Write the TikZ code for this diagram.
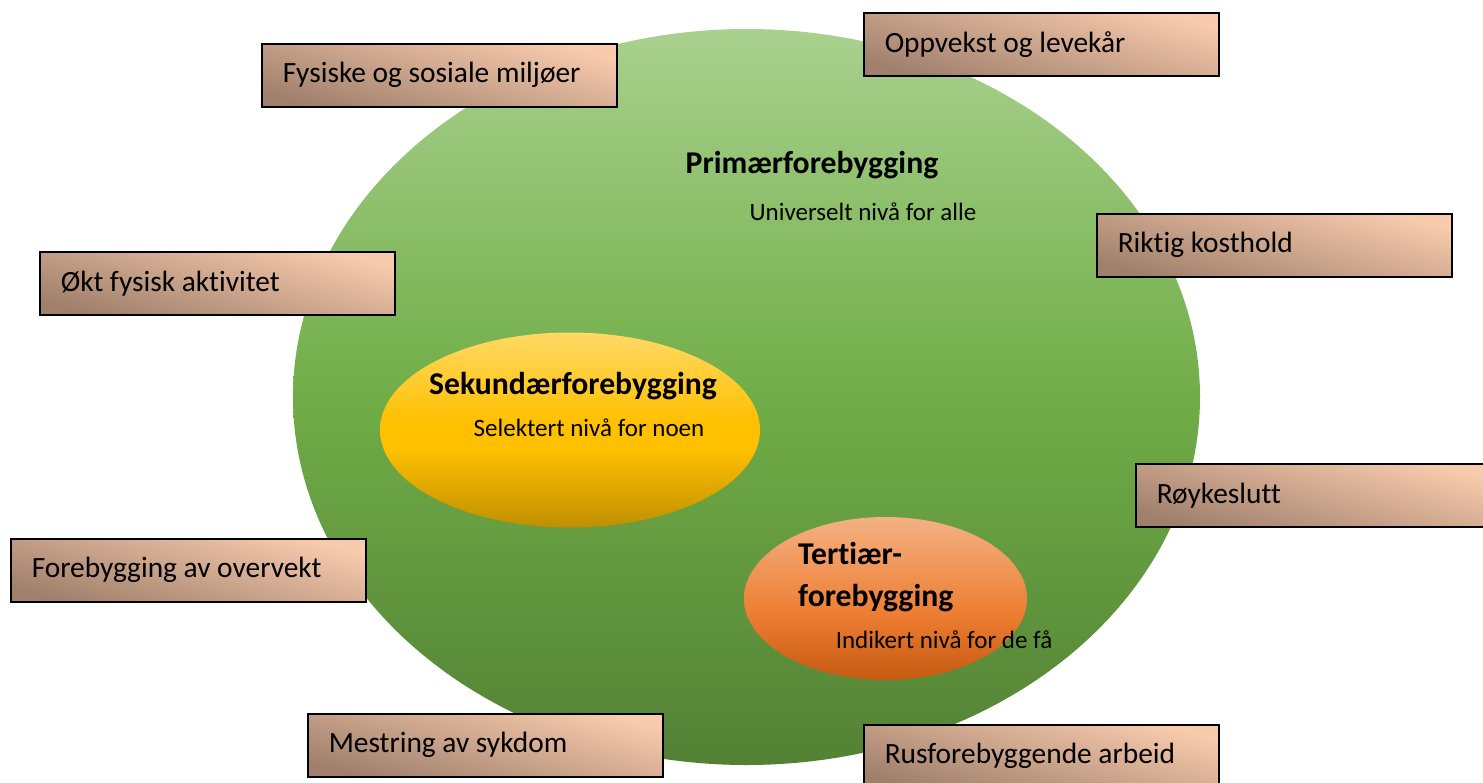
\documentclass[tikz,border=0pt]{standalone}
\usepackage{fontspec}
\setmainfont{Carlito}[Ligatures=CommonOff]
\usetikzlibrary{shapes.geometric}
\definecolor{gtop}{HTML}{A9D18E}
\definecolor{gmid}{HTML}{70AD47}
\definecolor{gbot}{HTML}{538135}
\definecolor{ytop}{HTML}{FFD966}
\definecolor{ymid}{HTML}{FFC000}
\definecolor{ybot}{HTML}{BF8F00}
\definecolor{otop}{HTML}{F4B183}
\definecolor{omid}{HTML}{ED7D31}
\definecolor{obot}{HTML}{C55A11}
\definecolor{blight}{HTML}{F8CBAD}
\definecolor{bdark}{HTML}{A0806C}
\pgfdeclareverticalshading{greenshade}{100bp}{color(0bp)=(gbot); color(25bp)=(gbot); color(50bp)=(gmid); color(75bp)=(gtop); color(100bp)=(gtop)}
\pgfdeclareverticalshading{yellowshade}{100bp}{color(0bp)=(ybot); color(25bp)=(ybot); color(45bp)=(ymid); color(52bp)=(ymid); color(75bp)=(ytop); color(100bp)=(ytop)}
\pgfdeclareverticalshading{orangeshade}{100bp}{color(0bp)=(obot); color(25bp)=(obot); color(45bp)=(omid); color(75bp)=(otop); color(100bp)=(otop)}
\newcommand\boxtxt[1]{\makebox[313pt][l]{#1}}
\tikzset{
  infobox/.style={draw=black, line width=1.5pt, anchor=north west,
    minimum width=355pt, minimum height=63pt,
    inner xsep=21pt, inner ysep=0pt,
    top color=blight, bottom color=bdark, shading angle=-15,
    font=\fontsize{29.4}{34}\selectfont},
  bigtitle/.style={font=\fontsize{31.7}{42}\selectfont\bfseries, inner sep=0pt},
  subtitle/.style={font=\fontsize{25}{28}\selectfont, inner sep=0pt},
}
\begin{document}
\begin{tikzpicture}[x=1pt,y=-1pt]
\useasboundingbox (0,0) rectangle (1483,782);
% primary ellipse
\node[ellipse, minimum width=907pt, minimum height=736pt, inner sep=0pt,
  shading=greenshade] (prim) at (746.5,397) {};
% secondary
\node[ellipse, minimum width=380pt, minimum height=195pt, inner sep=0pt,
  shading=yellowshade] (sek) at (570,430) {};
% tertiary
\node[ellipse, minimum width=283pt, minimum height=163pt, inner sep=0pt,
  shading=orangeshade] (ter) at (885.5,598.5) {};
% labels
\node[bigtitle] (primT) at (812,165) {Primærforebygging};
\node[subtitle] (primS) at (863,212) {Universelt nivå for alle};
\node[bigtitle] (sekT) at (573,386) {Sekundærforebygging};
\node[subtitle] (sekS) at (589,428) {Selektert nivå for noen};
\node[bigtitle, align=left, anchor=west] (terT) at (798,577) {Tertiær-\\forebygging};
\node[subtitle] (terS) at (944,640) {Indikert nivå for de få};
% boxes
\node[infobox] (b1) at (261,43) {\boxtxt{Fysiske og sosiale miljøer}};
\node[infobox] (b2) at (863,12) {\boxtxt{Oppvekst og levekår}};
\node[infobox] (b3) at (1096,213) {\boxtxt{Riktig kosthold}};
\node[infobox] (b4) at (39,251) {\boxtxt{Økt fysisk aktivitet}};
\node[infobox] (b5) at (1135,463) {\boxtxt{Røykeslutt}};
\node[infobox] (b6) at (10,538) {\boxtxt{Forebygging av overvekt}};
\node[infobox] (b7) at (307,713) {\boxtxt{Mestring av sykdom}};
\node[infobox] (b8) at (863,724) {\boxtxt{Rusforebyggende arbeid}};
\end{tikzpicture}
\end{document}
